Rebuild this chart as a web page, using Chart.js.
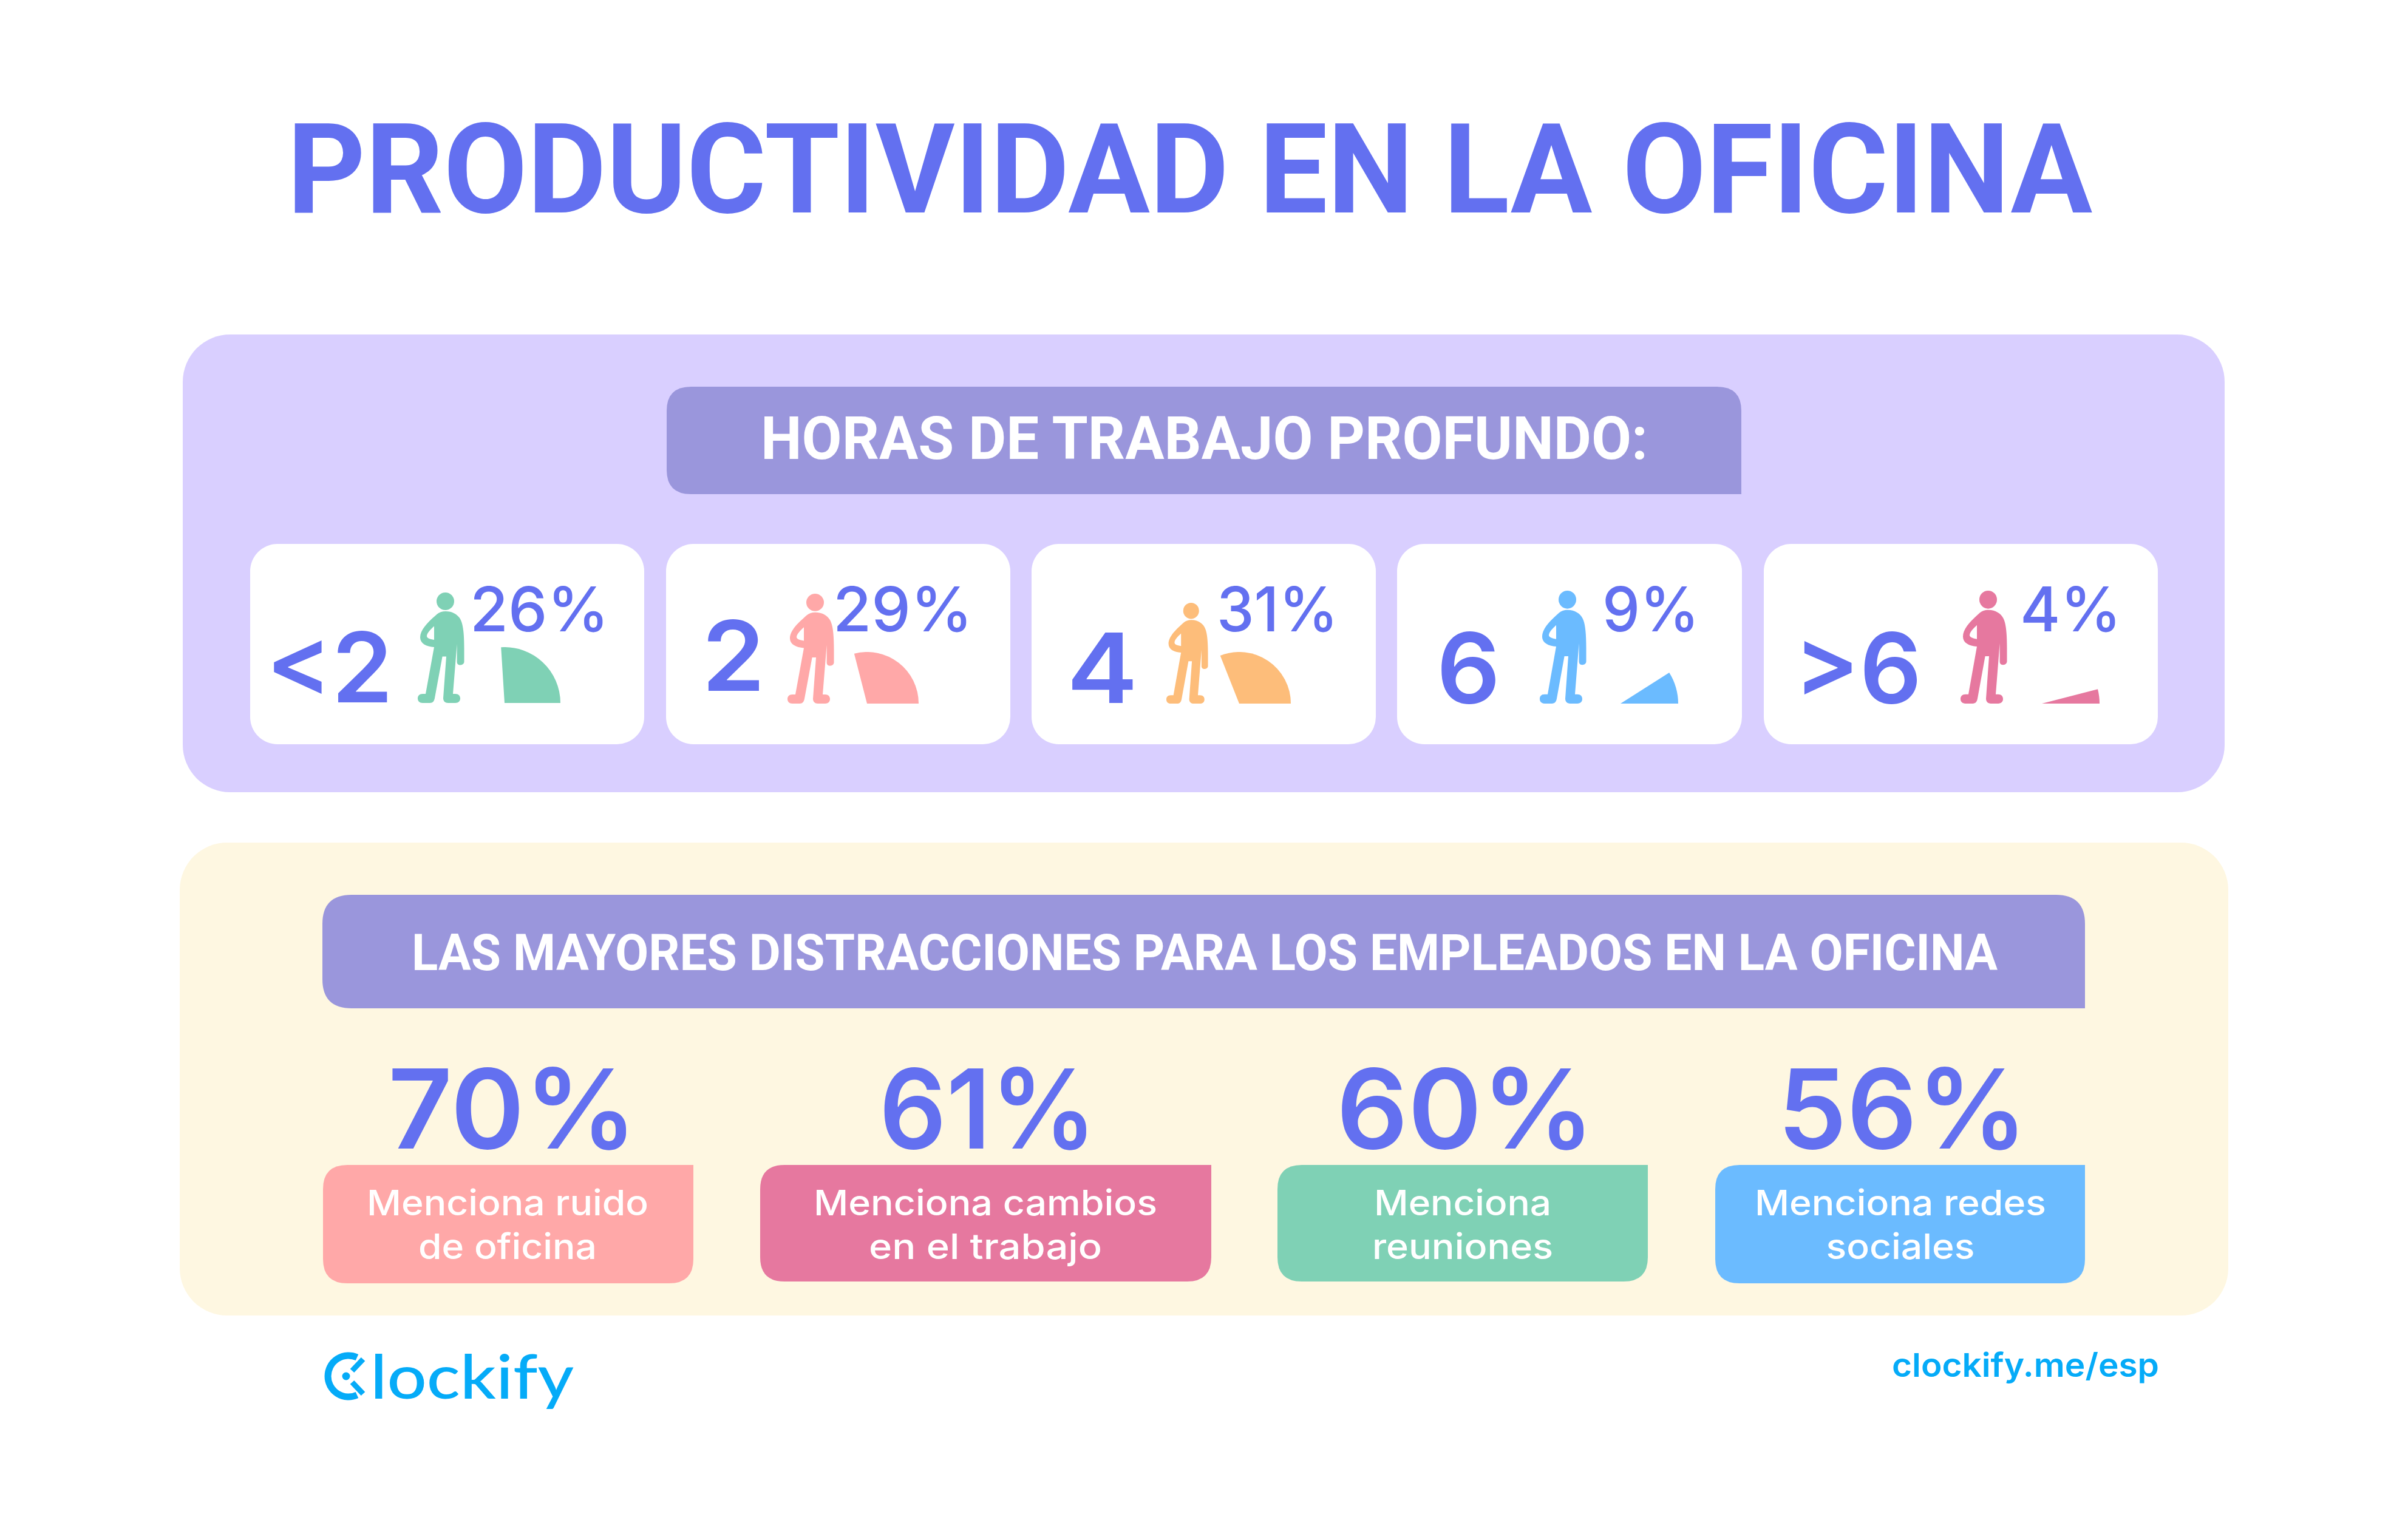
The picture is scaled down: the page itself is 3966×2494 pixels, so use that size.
<!DOCTYPE html>
<html lang="es">
<head>
<meta charset="utf-8">
<title>Productividad en la oficina</title>
<script src="https://cdn.jsdelivr.net/npm/chart.js@4/dist/chart.umd.js"></script>
<style>
html,body{margin:0;padding:0;background:#fff;width:3966px;height:2494px;overflow:hidden}
#stage{position:absolute;left:0;top:0;width:3966px;height:2494px}
#stage svg{position:absolute;left:0;top:0}
canvas{position:absolute;display:block}
</style>
</head>
<body>
<div id="stage"><svg id="art" width="3966" height="2494" viewBox="0 0 3966 2494" xmlns="http://www.w3.org/2000/svg"></svg></div>
<script>
// ---- data ----
const titleText = "PRODUCTIVIDAD EN LA OFICINA";
const hoursHeading = "HORAS DE TRABAJO PROFUNDO:";
const distractionsHeading = "LAS MAYORES DISTRACCIONES PARA LOS EMPLEADOS EN LA OFICINA";
const hourLabels = ["<2", "2", "4", "6", ">6"];
const hourShares = [26, 29, 31, 9, 4];
const hourColors = ["#7FD1B5", "#FFA8A8", "#FDBD7A", "#6BBBFF", "#E6789F"];
const distractionValues = [70, 61, 60, 56];
const distractionLines = [
  ["Menciona ruido", "de oficina"],
  ["Menciona cambios", "en el trabajo"],
  ["Menciona", "reuniones"],
  ["Menciona redes", "sociales"]
];
const distractionColors = ["#FFA8A8", "#E6789F", "#7FD1B5", "#6BBBFF"];
const logoWord = "lockify";
const siteText = "clockify.me/esp";

// ---- layout ----
const BLUE = "#6370F0", HEAD = "#9A96DC", CYAN = "#05ABF8";
const SANS = "Inter, 'Noto Sans', sans-serif", ROBOTO = "Roboto, sans-serif";
const cards = [[412,1061],[1097,1664],[1699,2266],[2301,2869],[2905,3554]];
const bigNum = [[438,647,1157],[1156,1260,1138],[1757,1874,1158],[2366,2471,1158],[2955,3165,1158]];
const pctPos = [[774,1003],[1372,1602],[2004,2204],[2639,2799],[3327,3494]];
const people = [[688,976,77,182],[1297,978,77,181],[1921,993,69,166],[2536,973,77,186],[3229,973,77,186]];
const wedges = [[831,1158,92],[1428,1159,85],[2041,1159,85],[2669,1159,95],[3363,1159,95]];
const boxes = [[532,1142,1919,2114],[1252,1995,1919,2111],[2104,2714,1919,2111],[2825,3434,1919,2114]];
const bigPct = [[639,1049],[1448,1806],[2201,2626],[2928,3339]];
const lineBase = [2002,2074];
const lineWidths = [[464,294],[566,384],[292,298],[480,245]];
const lineCentres = [836,1623,2409,3130];

const svg = document.getElementById("art");
const NS = "http://www.w3.org/2000/svg";
function el(tag, attrs, parent){
  const e = document.createElementNS(NS, tag);
  for (const k in attrs) e.setAttribute(k, attrs[k]);
  (parent || svg).appendChild(e);
  return e;
}
function rr(x0,x1,y0,y1,r,fill,squareBR,squareTR){
  const rbr = squareBR ? 0 : r, rtr = squareTR ? 0 : r;
  el("path",{fill,d:`M${x0+r} ${y0}H${x1-rtr}${rtr?`Q${x1} ${y0} ${x1} ${y0+rtr}`:""}V${y1-rbr}${rbr?`Q${x1} ${y1} ${x1-rbr} ${y1}`:""}H${x0+r}Q${x0} ${y1} ${x0} ${y1-r}V${y0+r}Q${x0} ${y0} ${x0+r} ${y0}Z`});
}
function rrRound(x,y,w,h,r,fill){ el("rect",{x,y,width:w,height:h,rx:r,ry:r,fill}); }
function txt(s,x0,x1,base,size,weight,fill,family){
  const t = el("text",{x:x0,y:base,"font-size":size,"font-weight":weight,fill,"font-family":family,textLength:x1-x0,lengthAdjust:"spacingAndGlyphs"});
  t.textContent = s;
  return t;
}

// panels
rrRound(301,551,3363,754,78,"#D9CFFF");
rrRound(296,1388,3374,779,78,"#FEF7E1");

// title + headings
txt(titleText,473,3446,350,206,700,BLUE,ROBOTO);
rr(1098,2868,637,814,40,HEAD,true,false);
txt(hoursHeading,1253,2714,756,98,700,"#fff",ROBOTO);
rr(531,3434,1474,1661,48,HEAD,true,false);
txt(distractionsHeading,678,3290,1598,84,700,"#fff",ROBOTO);

// person glyph, drawn in a 77 x 182 box
const personPath = "M46 31C40 31 35 33 32 35.5C20 46 4 60 4 74C4 84 14 89 27 90L13 167H8C3 167 0 170 0 174.5C0 179 3 182 8 182H20C25 182 27 179 28 174L40.6 105.6H47L42 174C42 179 45 182 50 182H62C67 182 70 179 70 174.5C70 170 67 167 62 167H58L64.6 85V114C64.6 117 66 119.5 70 119.5C74 119.5 76.5 117 76.5 114V92C76.5 70 75 56 72 48C69 39 60 31 46 31ZM27 55.5V78C20 77 15 75 15 72C15 67 21 61 27 55.5Z";

hourLabels.forEach((lab,i)=>{
  const c = cards[i];
  rrRound(c[0],896,c[1]-c[0],330,45,"#fff");
  const n = bigNum[i];
  txt(lab,n[0],n[1],n[2],160,600,BLUE,SANS);
  const p = pctPos[i];
  txt(hourShares[i]+"%",p[0],p[1],1040,102,550,BLUE,SANS);
  const q = people[i];
  const g = el("g",{transform:`translate(${q[0]} ${q[1]}) scale(${q[2]/77} ${q[3]/182})`,fill:hourColors[i]});
  el("ellipse",{cx:45.5,cy:14.5,rx:14.5,ry:14.5},g);
  el("path",{d:personPath,"fill-rule":"evenodd"},g);
});

distractionValues.forEach((v,i)=>{
  const b = boxes[i];
  rr(b[0],b[1],b[2],b[3],40,distractionColors[i],false,true);
  const p = bigPct[i];
  txt(v+"%",p[0],p[1],1892,182,600,BLUE,SANS);
  distractionLines[i].forEach((line,j)=>{
    const w = lineWidths[i][j], cx = lineCentres[i];
    txt(line,cx-w/2,cx+w/2,lineBase[j],58,500,"#fff",SANS);
  });
});

// footer
const logo = el("g",{fill:"none",stroke:CYAN,"stroke-width":11});
el("path",{d:"M588 2236A34 34 0 1 0 588 2298",stroke:CYAN},logo);
el("path",{d:"M580 2258L598 2239M580 2277L598 2296","stroke-width":9},logo);
el("circle",{cx:570,cy:2267,r:6.5,fill:CYAN,stroke:"none"});
txt(logoWord,610,945,2304,100,500,CYAN,"Lato, Inter, sans-serif");
txt(siteText,3116,3556,2268,54,600,CYAN,SANS);

// wedges: one Chart.js pie per share, its centre on the wedge apex
const stage = document.getElementById("stage");
hourShares.forEach((share,i)=>{
  const w = wedges[i], size = 2*w[2];
  const cv = document.createElement("canvas");
  cv.width = size; cv.height = size;
  cv.style.cssText = `left:${w[0]-w[2]}px;top:${w[1]-w[2]}px;width:${size}px;height:${size}px`;
  stage.appendChild(cv);
  new Chart(cv,{
    type:"pie",
    data:{labels:[hourLabels[i],"resto"],datasets:[{data:[share,100-share],backgroundColor:[hourColors[i],"rgba(0,0,0,0)"],borderWidth:0}]},
    options:{
      responsive:false,animation:false,devicePixelRatio:1,
      rotation:90-share*3.6,radius:w[2],
      layout:{padding:0},
      plugins:{legend:{display:false},tooltip:{enabled:false},title:{display:false}}
    }
  });
});
</script>
</body>
</html>
